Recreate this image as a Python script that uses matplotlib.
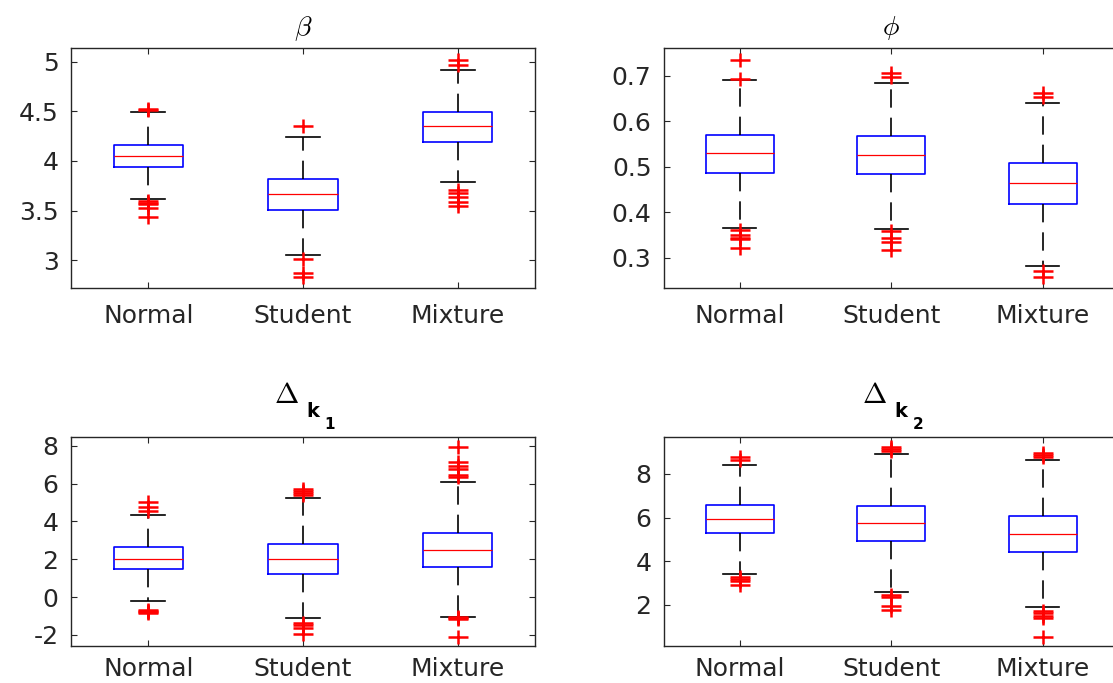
import matplotlib
matplotlib.use('Agg')
import matplotlib.pyplot as plt
from matplotlib.path import Path
from matplotlib.ticker import FormatStrFormatter
from matplotlib.transforms import offset_copy

plt.rcParams['font.family'] = 'DejaVu Sans'
plt.rcParams['mathtext.fontset'] = 'cm'
plt.rcParams['axes.unicode_minus'] = False

models = ['Normal', 'Student', 'Mixture']

# beta
beta_q1 = [3.940, 3.510, 4.191]
beta_med = [4.050, 3.668, 4.349]
beta_q3 = [4.161, 3.822, 4.493]
beta_lo = [3.614, 3.057, 3.792]
beta_hi = [4.490, 4.245, 4.913]
beta_out = [[4.52, 4.51, 3.597, 3.58, 3.564, 3.523, 3.433],
            [4.356, 3.010, 2.869, 2.836],
            [5.017, 4.963, 3.708, 3.674, 3.634, 3.591, 3.550]]

# phi
phi_q1 = [0.4864, 0.4844, 0.4169]
phi_med = [0.5305, 0.5247, 0.4640]
phi_q3 = [0.5686, 0.5672, 0.5081]
phi_lo = [0.3646, 0.3618, 0.2818]
phi_hi = [0.6897, 0.6846, 0.6398]
phi_out = [[0.7352, 0.6927, 0.3602, 0.3492, 0.344, 0.340, 0.322],
           [0.7051, 0.6978, 0.359, 0.3427, 0.3332, 0.317],
           [0.6611, 0.6523, 0.2708, 0.2583]]

# Delta k1
dk1_q1 = [1.472, 1.208, 1.612]
dk1_med = [2.017, 2.035, 2.475]
dk1_q3 = [2.633, 2.827, 3.407]
dk1_lo = [-0.218, -1.080, -1.027]
dk1_hi = [4.322, 5.237, 6.064]
dk1_out = [[5.04, 4.74, 4.57, -0.66, -0.72, -0.79, -0.86],
           [5.70, 5.59, 5.48, 5.38, -1.34, -1.48, -1.64, -1.96],
           [7.95, 7.12, 6.94, 6.75, 6.43, 6.33, -1.06, -1.12, -1.18, -2.10]]

# Delta k2
dk2_q1 = [5.291, 4.908, 4.418]
dk2_med = [5.918, 5.735, 5.260]
dk2_q3 = [6.577, 6.515, 6.087]
dk2_lo = [3.393, 2.597, 1.877]
dk2_hi = [8.398, 8.903, 8.628]
dk2_out = [[8.80, 8.64, 3.29, 3.18, 3.09, 2.90],
           [9.22, 9.13, 9.04, 2.44, 2.37, 1.94, 1.76],
           [8.98, 8.89, 8.80, 1.72, 1.60, 1.50, 1.37, 0.53]]

beta_ticks = [3, 3.5, 4, 4.5, 5]
phi_ticks = [0.3, 0.4, 0.5, 0.6, 0.7]
dk1_ticks = [-2, 0, 2, 4, 6, 8]
dk2_ticks = [2, 4, 6, 8]

# wide '+' used for outliers
plus = Path([(-1.45, 0), (1.45, 0), (0, -1), (0, 1)],
            [Path.MOVETO, Path.LINETO, Path.MOVETO, Path.LINETO])

fig = plt.figure(figsize=(11.13, 6.83), dpi=100)
ax1 = fig.add_axes([0.0638, 0.5779, 0.4169, 0.3514])
ax2 = fig.add_axes([0.5966, 0.5779, 0.4084, 0.3514])
ax3 = fig.add_axes([0.0638, 0.0542, 0.4169, 0.3060])
ax4 = fig.add_axes([0.5966, 0.0542, 0.4084, 0.3060])


def draw_box(ax, q1, med, q3, lo, hi, out, ylim, ticks, xpad):
    stats = []
    for i in range(len(models)):
        stats.append(dict(label=models[i], q1=q1[i], med=med[i], q3=q3[i],
                          whislo=lo[i], whishi=hi[i], fliers=out[i]))
    ax.bxp(stats, positions=[1, 2, 3], widths=0.45, capwidths=0.22,
           boxprops=dict(color='blue', lw=1.2),
           medianprops=dict(color='red', lw=0.9),
           whiskerprops=dict(color='black', lw=1.2, linestyle=(0, (11, 6))),
           capprops=dict(color='black', lw=1.2),
           flierprops=dict(marker=plus, markersize=14.5, markeredgecolor='red',
                           markerfacecolor='none', markeredgewidth=1.8,
                           linestyle='none'))
    ax.set_xlim(0.5, 3.5)
    ax.set_ylim(*ylim)
    ax.set_yticks(ticks)
    ax.yaxis.set_major_formatter(FormatStrFormatter('%g'))
    ax.tick_params(direction='in', length=4, width=0.8, colors='#262626',
                   labelsize=18, top=True, right=True)
    ax.tick_params(axis='x', pad=xpad)
    ax.tick_params(axis='y', pad=9)
    for s in ax.spines.values():
        s.set_color('#262626')
        s.set_linewidth(1.0)


draw_box(ax1, beta_q1, beta_med, beta_q3, beta_lo, beta_hi, beta_out,
         (2.718, 5.134), beta_ticks, 11)
draw_box(ax2, phi_q1, phi_med, phi_q3, phi_lo, phi_hi, phi_out,
         (0.2325, 0.760), phi_ticks, 11)
draw_box(ax3, dk1_q1, dk1_med, dk1_q3, dk1_lo, dk1_hi, dk1_out,
         (-2.58, 8.457), dk1_ticks, 8)
draw_box(ax4, dk2_q1, dk2_med, dk2_q3, dk2_lo, dk2_hi, dk2_out,
         (0.10, 9.70), dk2_ticks, 8)


def greek_title(ax, s):
    tr = offset_copy(ax.transAxes, fig=fig, x=0, y=13, units='dots')
    ax.text(0.5, 1.0, s, transform=tr, ha='center', va='baseline', fontsize=20)


def delta_title(ax, idx):
    tr = offset_copy(ax.transAxes, fig=fig, x=-29, y=34, units='dots')
    ax.text(0.5, 1.0, r'$\Delta$', transform=tr, ha='left', va='baseline',
            fontsize=21)
    tr = offset_copy(ax.transAxes, fig=fig, x=3, y=20, units='dots')
    ax.text(0.5, 1.0, 'k', transform=tr, ha='left', va='baseline',
            fontsize=14, fontweight='bold')
    tr = offset_copy(ax.transAxes, fig=fig, x=21, y=8, units='dots')
    ax.text(0.5, 1.0, idx, transform=tr, ha='left', va='baseline',
            fontsize=11, fontweight='bold')


greek_title(ax1, r'$\beta$')
greek_title(ax2, r'$\phi$')
delta_title(ax3, '1')
delta_title(ax4, '2')

fig.savefig('out.png', dpi=100)
